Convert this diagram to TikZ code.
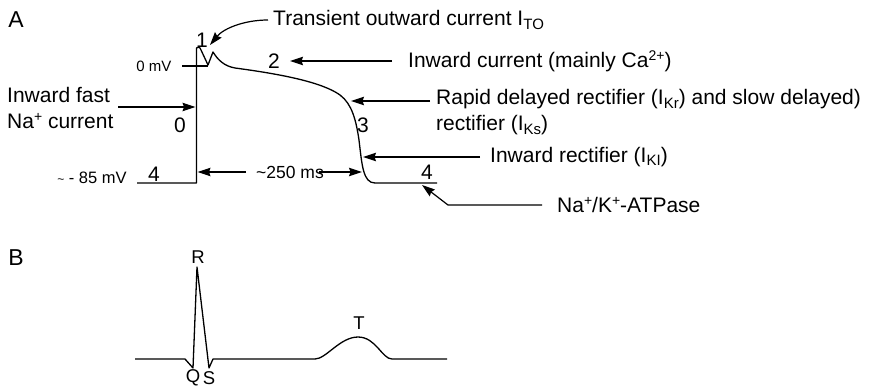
\documentclass[tikz,border=0pt]{standalone}
\usepackage{fontspec}
\setmainfont{Liberation Sans}
\usetikzlibrary{arrows.meta}
\newcommand{\mysub}[1]{\raisebox{-0.32ex}{\fontsize{15}{15}\selectfont #1}}
\newcommand{\mysup}[1]{\raisebox{0.62ex}{\fontsize{14}{14}\selectfont #1}}
\tikzset{
  x=1pt, y=-1pt,
  txt/.style={inner sep=0pt, font=\fontsize{21}{26}\selectfont},
  lbl/.style={inner sep=0pt, font=\fontsize{21}{26}\selectfont},
  small/.style={inner sep=0pt, font=\fontsize{15}{18}\selectfont},
  ecglbl/.style={inner sep=0pt, font=\fontsize{18.5}{22}\selectfont},
  panel/.style={inner sep=0pt, font=\fontsize{23}{26}\selectfont},
  trace/.style={line width=1.3pt, line join=round},
  arr/.style={line width=1.2pt, -{Stealth[length=13pt,width=8.5pt,inset=1.5pt]}},
  ln/.style={line width=1.2pt}
}
\begin{document}
\begin{tikzpicture}
\useasboundingbox (0,0) rectangle (872,388);

% ---------- Panel A ----------
\node[panel] (pA) at (16,20) {A};

% action potential trace
\draw[trace] (137,183) -- (196.5,183) -- (196.5,48)
  .. controls (198,46) and (200,47) .. (201,50) -- (208,65) -- (213,52)
  .. controls (218,60) and (224,66) .. (235,68)
  .. controls (280,74) and (322,82) .. (340,95)
  .. controls (352,104) and (356,120) .. (359,140)
  .. controls (362,165) and (363,183) .. (375,183) -- (437,183);

% 0 mV line
\coordinate (zmA) at (182,66);
\coordinate (zmB) at (208,66);
\draw[ln] (zmA) -- (zmB);
\node[small] (zeromv) at (154,66) {0 mV};

% phase numbers
\node[lbl] (one) at (202,40) {1};
\node[lbl] (two) at (274,61) {2};
\node[lbl] (zero) at (180,125) {0};
\node[lbl] (three) at (363,125) {3};
\node[lbl] (fourL) at (154,174) {4};
\node[lbl] (fourR) at (427,172) {4};
\node[inner sep=0pt, font=\fontsize{16.5}{18}\selectfont] (mv85) at (92,178) {{\fontsize{12}{12}\selectfont\textasciitilde}\ -\ 85 mV};

% labels
\node[txt, anchor=west] (tto) at (273,20) {Transient outward current I\mysub{TO}};
\node[txt, anchor=west] (ca) at (408,61) {Inward current (mainly Ca\mysup{2+})};
\node[txt, anchor=west, align=left] (fast) at (7,108) {Inward fast\\Na\mysup{+} current};
\node[txt, anchor=west, align=left] (rapid) at (436,112.5) {Rapid delayed rectifier (I\mysub{Kr}) and slow delayed)\\rectifier (I\mysub{Ks})};
\node[txt, anchor=west] (kI) at (490,157) {Inward rectifier (I\mysub{KI})};
\node[txt, anchor=west] (nak) at (557,205) {Na\mysup{+}/K\mysup{+}-ATPase};
\node[inner sep=0pt, font=\fontsize{17.5}{20}\selectfont] (ms) at (290,172) {\textasciitilde250 ms};

% arrow tips
\coordinate (tipTO) at (210,45);
\coordinate (tipCa) at (290,61);
\coordinate (tipNa) at (195.5,107);
\coordinate (tipKr) at (351,101);
\coordinate (tipKI) at (363,157);
\coordinate (tipMsL) at (197.5,172);
\coordinate (tipMsR) at (362,172);
\coordinate (nakBend) at (448,205);
\coordinate (tipNak) at (422,185);

% arrows
\draw[arr] ([xshift=-5]tto.west) .. controls (245,20) and (224,28) .. (tipTO);
\draw[arr] ([xshift=-16]ca.west) -- (tipCa);
\draw[arr] (118,107) -- (tipNa);
\draw[arr] (430,101) -- (tipKr);
\draw[arr] ([xshift=-10]kI.west) -- (tipKI);
\draw[arr] ([xshift=-10]ms.west) -- (tipMsL);
\draw[arr] ([xshift=-5]ms.east) -- (tipMsR);
\draw[arr] ([xshift=-15]nak.west) -- (nakBend) -- (tipNak);

% ---------- Panel B ----------
\node[panel] (pB) at (16,258) {B};
\draw[trace] (135,359) -- (185,359) -- (193,368) -- (197,267) -- (209,368) -- (213,359) -- (315,359)
  .. controls (326,359) and (340,337) .. (358,337)
  .. controls (376,337) and (382,359) .. (392,359) -- (447,359);
\node[ecglbl] (R) at (198,257) {R};
\node[ecglbl] (Q) at (193,378) {Q};
\node[ecglbl] (S) at (209,378) {S};
\node[ecglbl] (T) at (359,323) {T};
\end{tikzpicture}
\end{document}
